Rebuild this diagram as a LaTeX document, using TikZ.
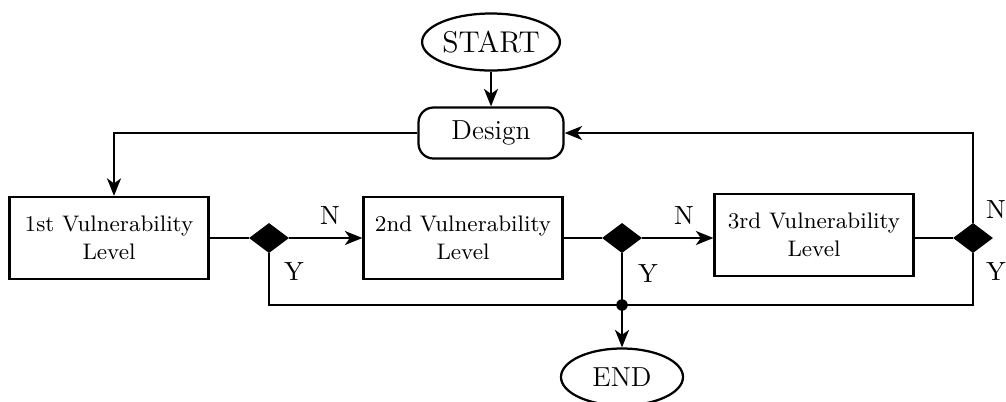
\documentclass[tikz,border=0pt]{standalone}
\usetikzlibrary{shapes.geometric,arrows.meta}
\begin{document}
\begin{tikzpicture}[x=0.4pt,y=-0.4pt,
  line width=0.9pt,
  arr/.style={-{Stealth[length=7pt,width=5.6pt,inset=2pt]}},
  term/.style={draw,ellipse,inner sep=0pt,minimum width=48.8pt,minimum height=22.8pt},
  stepbox/.style={draw,rectangle,inner sep=0pt,minimum width=79.6pt,minimum height=32.8pt,align=center,font=\fontsize{9}{11}\selectfont},
  dec/.style={draw,fill=black,diamond,inner sep=0pt,minimum width=14.8pt,minimum height=11.2pt},
  lbl/.style={font=\fontsize{10.5}{12}\selectfont}]
\useasboundingbox (0,0) rectangle (1006,401);
\node[term,font=\fontsize{12}{14}\selectfont] (start) at (491,42) {START};
\node[draw,rounded corners=6pt,minimum width=58pt,minimum height=20.4pt,inner sep=0pt,font=\fontsize{11}{13}\selectfont] (design) at (491,133) {Design};
\node[stepbox] (b1) at (109,238) {1st Vulnerability\\Level};
\node[stepbox] (b2) at (463,238) {2nd Vulnerability\\Level};
\node[stepbox] (b3) at (814,235) {3rd Vulnerability\\Level};
\node[dec] (d1) at (269,238) {};
\node[dec] (d2) at (622,238) {};
\node[dec] (d3) at (973,238) {};
\node[term,font=\fontsize{11}{13}\selectfont] (end) at (622,377) {END};
\coordinate (bl) at (269,305);
\coordinate (br) at (973,305);
\coordinate (j) at (622,305);
\draw[arr] (start) -- (design);
\draw[arr] (design.west) -| ([xshift=2pt]b1.north);
\draw (b1.east) -- (d1.west);
\draw[arr] (d1.east) -- (b2.west);
\draw (b2.east) -- (d2.west);
\draw[arr] (d2.east) -- (d2.east -| b3.west);
\draw (b3.east |- d3) -- (d3.west);
\draw[arr] (d3.north) |- (design.east);
\draw (d1.south) -- (bl) -- (br) -- (d3.south);
\draw (d2.south) -- (j);
\fill (j) circle (2.3pt);
\draw[arr] (j) -- (end.north);
\node[lbl] (n1) at (330,216) {N};
\node[lbl] (y1) at (294,272) {Y};
\node[lbl] (n2) at (684,216) {N};
\node[lbl] (y2) at (648,274) {Y};
\node[lbl] (n3) at (996,210) {N};
\node[lbl] (y3) at (996,272) {Y};
\end{tikzpicture}
\end{document}
